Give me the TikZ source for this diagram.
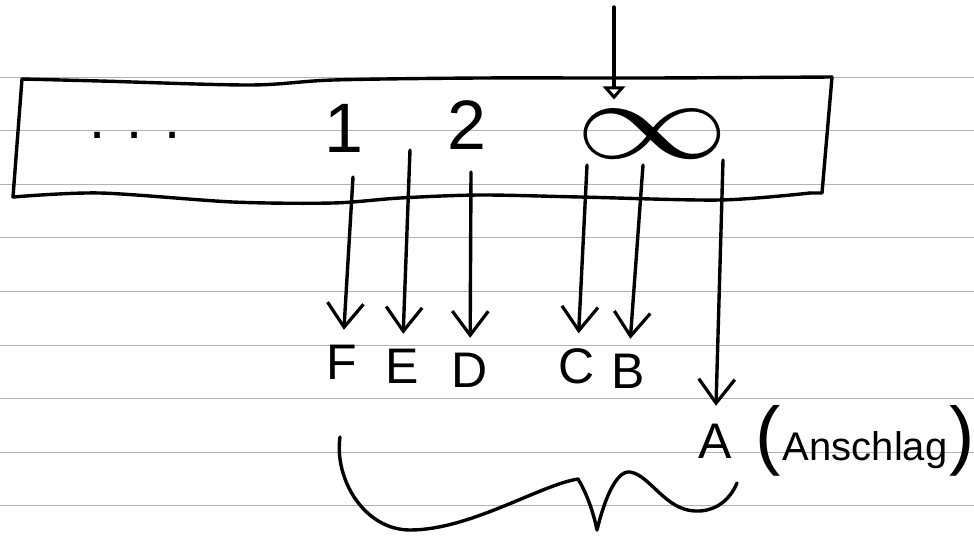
\documentclass[tikz,border=0pt]{standalone}
\usepackage{fix-cm}
\usepackage{fontspec}
\setmainfont{Liberation Sans}
\usetikzlibrary{arrows.meta}
\begin{document}
\begin{tikzpicture}[x=1pt,y=-1pt,
  pen/.style={line width=3.4pt, line cap=round, line join=round, black},
  rule/.style={gray!60, line width=1pt},
  down/.style={pen, -{Straight Barb[length=24pt,width=36pt,line width=3.2pt]}},
  lab/.style={inner sep=0pt, outer sep=15pt, font=\fontsize{50}{50}\selectfont},
  num/.style={inner sep=0pt, font=\fontsize{70}{70}\selectfont}]
\useasboundingbox (0,0) rectangle (974,536);
% lined paper
\foreach \k in {0,...,8}
  \draw[rule] (0,{77+53.6*\k}) -- (974,{77+53.6*\k});
% box
\draw[pen] plot[smooth, tension=0.5] coordinates {(22,79) (100,81) (250,85) (333,80) (480,78) (650,78) (832,77)};
\draw[pen] (832,77) -- (822,193) -- (810,193);
\draw[pen] plot[smooth, tension=0.5] coordinates {(810,193) (720,200) (580,197) (480,195) (400,198) (333,203) (233,202) (100,193) (13,197)};
\draw[pen] (13,197) -- (22,79);
% contents of the box
\node[inner sep=0pt, anchor=base, font=\fontsize{58}{58}\selectfont] (dots) at (135,138) {. . .};
\node[num] (one) at (344,128) {1};
\node[num] (two) at (467,125) {2};
\node[inner sep=0pt, font=\fontsize{123}{123}\selectfont] (inf) at (652,134) {\scalebox{1.25}[0.92]{$\infty$}};
% top arrow
\coordinate (top) at (614,7);
\draw[pen, -{Triangle[open,length=13pt,width=22pt,line width=3pt]}, shorten >=10pt] (top) -- (top |- inf.north);
% labels
\node[lab] (F) at (342,362) {F};
\node[lab] (E) at (402,366) {E};
\node[lab] (D) at (470,370) {D};
\node[lab] (C) at (577,366) {C};
\node[lab] (B) at (628,371) {B};
\node[lab, outer sep=18pt] (A) at (715,441) {A};
\node[inner sep=0pt, anchor=west] (ansch) at ([xshift=6pt]A.east) {{\fontsize{76}{76}\selectfont(}\,{\fontsize{40}{40}\selectfont Anschlag}\,{\fontsize{76}{76}\selectfont)}};
% arrow starts
\coordinate (sF) at (353,177);
\coordinate (sE) at (410,150);
\coordinate (sD) at (471,172);
\coordinate (sC) at (587,165);
\coordinate (sB) at (643,165);
\coordinate (sA) at (723,160);
\draw[down] (sF) -- (F);
\draw[down] (sE) -- (E);
\draw[down] (sD) -- (D);
\draw[down] (sC) -- (C);
\draw[down] (sB) -- (B);
\draw[down] (sA) -- (A);
% brace
\draw[pen] (340,437) .. controls (334,480) and (365,530) .. (410,530)
  .. controls (470,530) and (540,485) .. (578,479)
  .. controls (585,490) and (593,510) .. (597,530)
  .. controls (603,505) and (615,470) .. (630,472)
  .. controls (650,475) and (665,510) .. (695,511)
  .. controls (715,512) and (730,500) .. (737,483);
\end{tikzpicture}
\end{document}
